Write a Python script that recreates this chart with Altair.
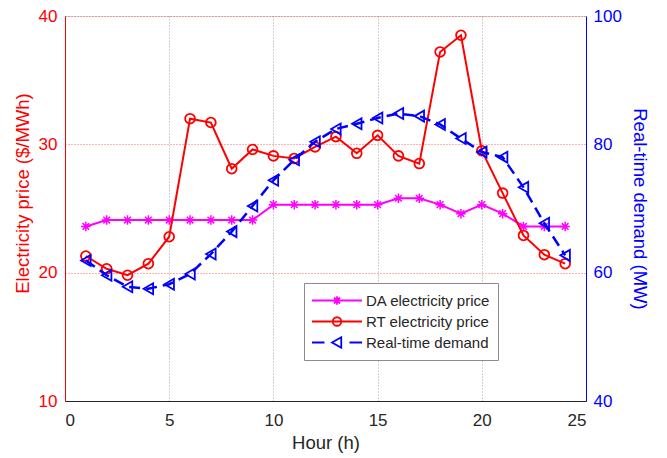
import altair as alt
import pandas as pd

hours = list(range(1, 25))
da_price = [23.6, 24.1, 24.1, 24.1, 24.1, 24.1, 24.1, 24.1, 24.1, 25.3, 25.3, 25.3,
            25.3, 25.3, 25.3, 25.8, 25.8, 25.3, 24.6, 25.3, 24.6, 23.6, 23.6, 23.6]
rt_price = [21.3, 20.3, 19.8, 20.7, 22.8, 32.0, 31.7, 28.1, 29.6, 29.1, 28.9, 29.8,
            30.6, 29.3, 30.7, 29.1, 28.5, 37.2, 38.5, 29.5, 26.2, 22.9, 21.4, 20.7]
demand = [61.9, 59.6, 57.8, 57.5, 58.2, 59.8, 62.9, 66.4, 70.4, 74.4, 77.6, 80.4,
          82.4, 83.2, 84.1, 84.8, 84.4, 83.1, 80.9, 78.8, 78.0, 73.3, 67.7, 62.7]

series_names = ["DA electricity price", "RT electricity price", "Real-time demand"]
series_colors = ["#ff00ff", "#ff0000", "#0000ff"]
x_ticks = [0, 5, 10, 15, 20, 25]
left_ticks = [10, 20, 30, 40]
right_ticks = [40, 60, 80, 100]

da_df = pd.DataFrame({"hour": hours, "value": da_price})
rt_df = pd.DataFrame({"hour": hours, "value": rt_price})
dm_df = pd.DataFrame({"hour": hours, "value": demand})
legend_df = pd.DataFrame({"series": series_names, "hour": [None] * 3, "value": [None] * 3})

FONT = "Liberation Sans"
ASTERISK = "M0,-1V1M-1,0H1M-0.7,-0.7L0.7,0.7M-0.7,0.7L0.7,-0.7"

# legend symbols: line + marker (units: 1 = 25 px at size 2500)
k = 0.0939
r = 0.17
circ = (f"M{r},0C{r},{k} {k},{r} 0,{r}C-{k},{r} -{r},{k} -{r},0"
        f"C-{r},-{k} -{k},-{r} 0,-{r}C{k},-{r} {r},-{k} {r},0Z")
leg_da = "M-1,0H1M0,-0.17V0.17M-0.17,0H0.17M-0.12,-0.12L0.12,0.12M-0.12,0.12L0.12,-0.12"
leg_rt = "M-1,0H1" + circ
leg_dm = "M-1,0H-0.5M0.5,0H1M-0.2,0L0.17,-0.21L0.17,0.21Z"

x_enc = alt.X("hour:Q", scale=alt.Scale(domain=[0, 25], nice=False),
              axis=alt.Axis(values=x_ticks, title="Hour (h)", grid=True,
                            gridColor="#9a9a9a", gridDash=[1, 2], gridOpacity=0.9,
                            domainColor="#262626", labelColor="#262626",
                            titleColor="#262626", ticks=False, labelPadding=11,
                            labelFontSize=17, titleFontSize=18.5, titleFontWeight="normal",
                            titlePadding=5, labelFont=FONT, titleFont=FONT))

y_left = alt.Y("value:Q", scale=alt.Scale(domain=[10, 40], nice=False, zero=False),
               axis=alt.Axis(values=left_ticks, title="Electricity price ($/MWh)",
                             orient="left", grid=True, gridColor="#ff0000",
                             gridDash=[1, 2], gridOpacity=0.6,
                             domainColor="#ff0000", labelColor="#ff0000",
                             titleColor="#ff0000", ticks=False, labelPadding=8,
                             labelFontSize=17, titleFontSize=18.5, titleFontWeight="normal",
                             titlePadding=6, titleY=177, labelFont=FONT, titleFont=FONT))

y_right = alt.Y("value:Q", scale=alt.Scale(domain=[40, 100], nice=False, zero=False),
                axis=alt.Axis(values=right_ticks, title="Real-time demand (MW)",
                              orient="right", grid=False,
                              domainColor="#0000ff", labelColor="#0000ff",
                              titleColor="#0000ff", ticks=False, labelPadding=7,
                              labelFontSize=17, titleFontSize=18.5, titleFontWeight="normal",
                              titlePadding=8, labelFont=FONT, titleFont=FONT))

da_base = alt.Chart(da_df).encode(x=x_enc, y=y_left)
da_line = da_base.mark_line(strokeWidth=2, color=series_colors[0])
da_pts = da_base.mark_point(shape=ASTERISK, size=90, strokeWidth=1.5, filled=False,
                            opacity=1, color=series_colors[0])

rt_base = alt.Chart(rt_df).encode(x=x_enc, y=y_left)
rt_line = rt_base.mark_line(strokeWidth=2, color=series_colors[1])
rt_pts = rt_base.mark_point(shape="circle", size=95, strokeWidth=1.8, filled=False,
                            opacity=1, color=series_colors[1])

legend_props = dict(title=None, orient="none", legendX=239, legendY=267, padding=7,
                    strokeColor="#8c8c8c", fillColor="white", symbolSize=2500,
                    symbolStrokeWidth=1.8, clipHeight=21, rowPadding=0,
                    labelFontSize=15, labelFont=FONT, labelColor="#262626",
                    labelOffset=3, cornerRadius=0)

legend_layer = alt.Chart(legend_df).transform_filter("isValid(datum.hour)").mark_point(
    filled=False, opacity=1).encode(
    x=x_enc, y=y_left,
    color=alt.Color("series:N", scale=alt.Scale(domain=series_names, range=series_colors),
                    legend=alt.Legend(**legend_props)),
    shape=alt.Shape("series:N", scale=alt.Scale(domain=series_names,
                                                range=[leg_da, leg_rt, leg_dm]),
                    legend=alt.Legend(**legend_props)),
)

dm_base = alt.Chart(dm_df).encode(x=x_enc, y=y_right)
dm_line = dm_base.mark_line(strokeWidth=2.5, strokeDash=[11, 6], color=series_colors[2])
dm_pts = dm_base.mark_point(shape="triangle-left", size=120, strokeWidth=1.8,
                            filled=False, opacity=1, color=series_colors[2])

chart = alt.layer(
    alt.layer(legend_layer, da_line, da_pts, rt_line, rt_pts),
    alt.layer(dm_line, dm_pts),
).resolve_scale(y="independent").properties(
    width=521, height=385,
    autosize=alt.AutoSizeParams(type="none"),
    padding={"left": 65, "top": 16, "right": 81, "bottom": 57},
    background="white",
).configure_view(stroke="#4d4d4d", strokeWidth=1).configure(font=FONT)

chart.save("out.html", embed_options={"renderer": "svg", "actions": False})
